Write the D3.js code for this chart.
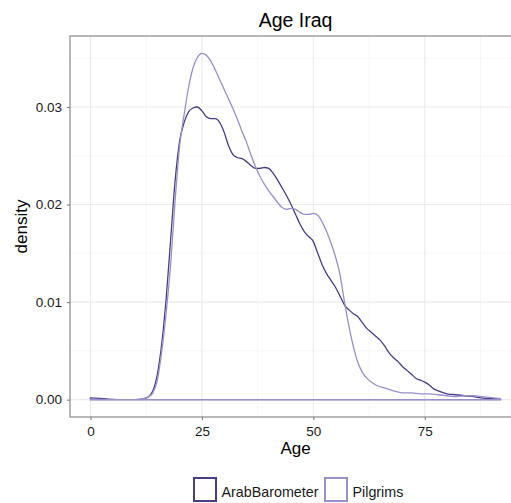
<!DOCTYPE html>
<html>
<head>
<meta charset="utf-8">
<script src="https://cdn.jsdelivr.net/npm/d3@7"></script>
<style>
  body { margin: 0; background: #fff; }
  text { font-family: "Liberation Sans", Arial, sans-serif; }
</style>
</head>
<body>
<svg id="drawing_region"></svg>
<script>
// density estimates, age on x
const series_names = ["ArabBarometer", "Pilgrims"];
const series_colors = ["#483d8b", "#9a8fcb"];

const arab_age = [0, 2, 4, 6, 8, 10, 12, 13, 14, 15, 16, 17, 18, 19, 20, 21, 22, 23, 24, 25, 26, 27, 28, 29, 30,
    31, 32, 33, 34, 35, 36, 37, 38, 39, 40, 41, 42, 43, 44, 45, 46, 47, 48, 49, 50, 51, 52, 53, 54, 55,
    56, 57, 58, 59, 60, 61, 62, 63, 64, 65, 66, 67, 68, 69, 70, 71, 72, 73, 74, 75, 76, 77, 78, 80, 82,
    84, 86, 88, 90, 92];
const arab_density = [0.00018, 0.00012, 0.00005, 0.00001, 0, 0, 0.0001, 0.0003, 0.0009, 0.0026, 0.0058, 0.0105,
    0.0165, 0.0225, 0.0265, 0.0284, 0.0295, 0.0299, 0.0300, 0.0296, 0.0290, 0.0288, 0.0288, 0.0284, 0.0274,
    0.0260, 0.0251, 0.0248, 0.0247, 0.0244, 0.0240, 0.0237, 0.0237, 0.0238, 0.0237, 0.0232, 0.0225, 0.0217,
    0.0209, 0.0200, 0.0190, 0.0180, 0.0172, 0.0167, 0.0162, 0.0150, 0.0138, 0.0129, 0.0122, 0.0115,
    0.0106, 0.0097, 0.0092, 0.0088, 0.0085, 0.0079, 0.0073, 0.0069, 0.0065, 0.0061, 0.0055, 0.0048, 0.0043,
    0.0039, 0.0034, 0.0030, 0.0026, 0.0022, 0.0020, 0.0018, 0.0015, 0.0011, 0.0009, 0.0006, 0.0005,
    0.0004, 0.0003, 0.00015, 0.0001, 0.00008];

const pilgrim_age = [0, 5, 10, 12, 13, 14, 15, 16, 17, 18, 19, 20, 21, 22, 23, 24, 25, 26, 27, 28, 29, 30,
    31, 32, 33, 34, 35, 36, 37, 38, 39, 40, 41, 42, 43, 44, 45, 46, 47, 48, 49, 50, 51, 52, 53, 54, 55,
    56, 57, 58, 59, 60, 61, 62, 63, 64, 66, 68, 70, 72, 74, 76, 78, 80, 82, 84, 86, 88, 90, 92];
const pilgrim_density = [0.00005, 0, 0, 0.0001, 0.0003, 0.0007, 0.0020, 0.0050, 0.0090, 0.0140, 0.0205, 0.0260,
    0.0292, 0.0320, 0.0340, 0.0351, 0.0355, 0.0353, 0.0347, 0.0338, 0.0328, 0.0318, 0.0308, 0.0298,
    0.0287, 0.0275, 0.0264, 0.0251, 0.0239, 0.0229, 0.0221, 0.0214, 0.0208, 0.0202, 0.0197, 0.0195,
    0.0196, 0.0195, 0.0192, 0.0190, 0.0190, 0.0191, 0.0189, 0.0182, 0.0172, 0.0160, 0.0146, 0.0128,
    0.0100, 0.0075, 0.0054, 0.0038, 0.0028, 0.0022, 0.0018, 0.0015, 0.0012, 0.0009, 0.0007, 0.0007,
    0.0006, 0.0006, 0.0005, 0.0004, 0.0003, 0.0004, 0.0004, 0.0003, 0.0002, 0.0001];

const x_ticks = [0, 25, 50, 75];
const y_ticks = [0, 0.01, 0.02, 0.03];

const config = {
    width: 511,
    height: 503,
    margin: { top: 36, right: -10, bottom: 86, left: 70 }
};

const svg = d3.select("#drawing_region")
    .attr("width", config.width)
    .attr("height", config.height);

const inner_width = config.width - config.margin.left - config.margin.right;
const inner_height = config.height - config.margin.top - config.margin.bottom;

const chart = svg.append("g")
    .attr("transform", `translate(${config.margin.left}, ${config.margin.top})`);

const xscale = d3.scaleLinear().domain([-4.6, 96.6]).range([0, inner_width]);
const yscale = d3.scaleLinear().domain([-0.00178, 0.03728]).range([inner_height, 0]);

// minor grid
const x_minor = [12.5, 37.5, 62.5, 87.5];
const y_minor = [0.005, 0.015, 0.025, 0.035];
chart.selectAll(".xminor").data(x_minor).enter().append("line")
    .attr("x1", d => xscale(d)).attr("x2", d => xscale(d))
    .attr("y1", 0).attr("y2", inner_height)
    .attr("stroke", "#f5f5f5").attr("stroke-width", 0.8);
chart.selectAll(".yminor").data(y_minor).enter().append("line")
    .attr("y1", d => yscale(d)).attr("y2", d => yscale(d))
    .attr("x1", 0).attr("x2", inner_width)
    .attr("stroke", "#f5f5f5").attr("stroke-width", 0.8);

// major grid
chart.selectAll(".xmajor").data(x_ticks).enter().append("line")
    .attr("x1", d => xscale(d)).attr("x2", d => xscale(d))
    .attr("y1", 0).attr("y2", inner_height)
    .attr("stroke", "#ebebeb").attr("stroke-width", 1.1);
chart.selectAll(".ymajor").data(y_ticks).enter().append("line")
    .attr("y1", d => yscale(d)).attr("y2", d => yscale(d))
    .attr("x1", 0).attr("x2", inner_width)
    .attr("stroke", "#ebebeb").attr("stroke-width", 1.1);

// density outlines, closed along the baseline like geom_density
const line = d3.line()
    .x(d => xscale(d[0]))
    .y(d => yscale(d[1]))
    .curve(d3.curveMonotoneX);

const all_series = [
    d3.zip(arab_age, arab_density),
    d3.zip(pilgrim_age, pilgrim_density)
];

all_series.forEach((pts, i) => {
    const first = pts[0][0], last = pts[pts.length - 1][0];
    chart.append("path")
        .attr("d", line(pts) + `L${xscale(last)},${yscale(0)}L${xscale(first)},${yscale(0)}Z`)
        .attr("fill", "none")
        .attr("stroke", series_colors[i])
        .attr("stroke-width", 1.3);
});

// panel border
chart.append("rect")
    .attr("x", 0).attr("y", 0)
    .attr("width", inner_width).attr("height", inner_height)
    .attr("fill", "none")
    .attr("stroke", "#7f7f7f")
    .attr("stroke-width", 1.1);

// axes
const xaxis = d3.axisBottom(xscale).tickValues(x_ticks).tickSize(3).tickPadding(6).tickFormat(d3.format("d"));
const yaxis = d3.axisLeft(yscale).tickValues(y_ticks).tickSize(3).tickPadding(5).tickFormat(d3.format(".2f"));

const xaxis_group = chart.append("g")
    .attr("transform", `translate(0, ${inner_height})`)
    .call(xaxis);
const yaxis_group = chart.append("g").call(yaxis);

[xaxis_group, yaxis_group].forEach(g => {
    g.select(".domain").remove();
    g.selectAll(".tick line").attr("stroke", "#7f7f7f").attr("stroke-width", 1.1);
    g.selectAll(".tick text")
        .attr("fill", "#1a1a1a")
        .style("font-size", "13.5px")
        .style("font-family", "Liberation Sans, Arial, sans-serif");
});

// titles
svg.append("text")
    .attr("x", config.margin.left + xscale(46))
    .attr("y", 27)
    .attr("text-anchor", "middle")
    .style("font-size", "19.5px")
    .attr("fill", "#000")
    .text("Age Iraq");

svg.append("text")
    .attr("x", config.margin.left + xscale(46))
    .attr("y", 454)
    .attr("text-anchor", "middle")
    .style("font-size", "17px")
    .attr("fill", "#000")
    .text("Age");

svg.append("text")
    .attr("transform", `translate(27, ${config.margin.top + inner_height / 2}) rotate(-90)`)
    .attr("text-anchor", "middle")
    .style("font-size", "17px")
    .attr("fill", "#000")
    .text("density");

// legend
const legend_x = [194, 325];
const legend = svg.selectAll(".legend").data(series_names).enter().append("g")
    .attr("transform", (d, i) => `translate(${legend_x[i]}, 478)`);
legend.append("rect")
    .attr("width", 22).attr("height", 23)
    .attr("fill", "#fff")
    .attr("stroke", (d, i) => series_colors[i])
    .attr("stroke-width", 2);
legend.append("text")
    .attr("x", 27.5).attr("y", 19)
    .style("font-size", "14.3px")
    .attr("fill", "#1a1a1a")
    .text(d => d);
</script>
</body>
</html>
